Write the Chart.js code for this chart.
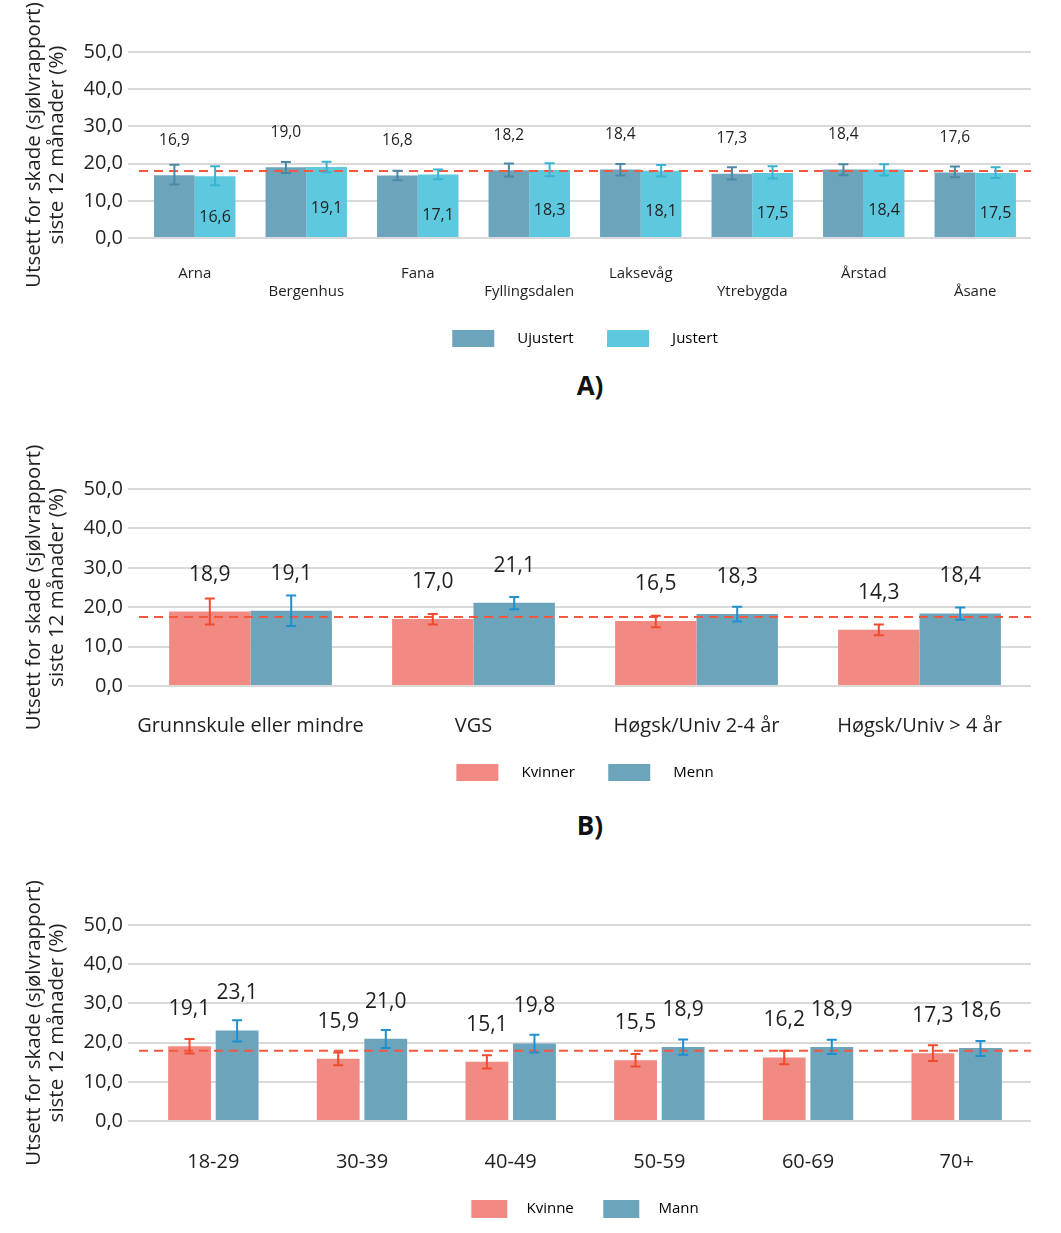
<!DOCTYPE html>
<html>
<head>
<meta charset="utf-8">
<script src="https://cdn.jsdelivr.net/npm/chart.js@4/dist/chart.umd.min.js"></script>
<style>
  body { margin: 0; background: #fff; font-family: "Open Sans", sans-serif; }
  #page { position: relative; width: 1061px; height: 1233px; }
  .box { position: absolute; left: 0; width: 1061px; }
  .tag { position: absolute; width: 60px; text-align: center; font-weight: bold; font-size: 26px; color: #111; line-height: 30px; }
</style>
</head>
<body>
<div id="page">
  <div class="box" style="top:0;height:357px"><canvas id="chartA"></canvas></div>
  <div class="tag" style="left:560px;top:370px">A)</div>
  <div class="box" style="top:440px;height:351px"><canvas id="chartB"></canvas></div>
  <div class="tag" style="left:560px;top:810px">B)</div>
  <div class="box" style="top:870px;height:358px"><canvas id="chartC"></canvas></div>
</div>
<script>
// A) bydel
var bydelar = ['Arna', 'Bergenhus', 'Fana', 'Fyllingsdalen', 'Laksevåg', 'Ytrebygda', 'Årstad', 'Åsane'];
var ujustert = [16.9, 19.0, 16.8, 18.2, 18.4, 17.3, 18.4, 17.6];
var ujustertLo = [14.4, 17.5, 15.5, 16.5, 16.8, 15.7, 16.9, 16.3];
var ujustertHi = [19.7, 20.4, 18.1, 20.0, 19.9, 19.0, 19.8, 19.2];
var justert = [16.6, 19.1, 17.1, 18.3, 18.1, 17.5, 18.4, 17.5];
var justertLo = [14.2, 17.7, 15.8, 16.6, 16.5, 16.0, 16.8, 16.1];
var justertHi = [19.3, 20.5, 18.4, 20.1, 19.6, 19.3, 19.8, 19.0];
var snittA = 18.0;

// B) utdanning
var utdanning = ['Grunnskule eller mindre', 'VGS', 'Høgsk/Univ 2-4 år', 'Høgsk/Univ > 4 år'];
var kvinnerB = [18.9, 17.0, 16.5, 14.3];
var kvinnerBLo = [15.6, 15.6, 14.9, 12.9];
var kvinnerBHi = [22.2, 18.3, 17.8, 15.6];
var mennB = [19.1, 21.1, 18.3, 18.4];
var mennBLo = [15.2, 19.5, 16.4, 16.8];
var mennBHi = [23.0, 22.6, 20.1, 19.9];
var snittB = 17.5;

// C) alder
var alder = ['18-29', '30-39', '40-49', '50-59', '60-69', '70+'];
var kvinneC = [19.1, 15.9, 15.1, 15.5, 16.2, 17.3];
var kvinneCLo = [17.2, 14.2, 13.4, 13.9, 14.5, 15.3];
var kvinneCHi = [20.9, 17.5, 16.8, 17.1, 17.9, 19.3];
var mannC = [23.1, 21.0, 19.8, 18.9, 18.9, 18.6];
var mannCLo = [20.3, 18.6, 17.5, 16.9, 17.1, 16.6];
var mannCHi = [25.7, 23.2, 22.0, 20.8, 20.7, 20.4];
var snittC = 17.9;

var yTicks = [0, 10, 20, 30, 40, 50];
var yTitle = ['Utsett for skade (sjølvrapport)', 'siste 12 månader (%)'];

var FONT = '"Open Sans", sans-serif';
var TEXT = '#1f1f1f';

function komma(v) {
  return v.toFixed(1).replace('.', ',');
}

// feilstolpar, snittlinje og verdietikettar
var extras = {
  id: 'extras',
  afterDatasetsDraw: function(chart, args, opts) {
    var ctx = chart.ctx;
    var y = chart.scales.y;
    var area = chart.chartArea;

    var ym = y.getPixelForValue(opts.mean);
    ctx.save();
    ctx.strokeStyle = '#f4583e';
    ctx.lineWidth = 2;
    ctx.setLineDash([9, 6]);
    ctx.beginPath();
    ctx.moveTo(area.left, ym);
    ctx.lineTo(area.right, ym);
    ctx.stroke();
    ctx.restore();

    chart.data.datasets.forEach(function(ds, di) {
      var meta = chart.getDatasetMeta(di);
      ctx.save();
      ctx.strokeStyle = ds.errColor;
      ctx.lineWidth = 2;
      meta.data.forEach(function(bar, i) {
        var t = y.getPixelForValue(ds.hi[i]);
        var b = y.getPixelForValue(ds.lo[i]);
        ctx.beginPath();
        ctx.moveTo(bar.x, t); ctx.lineTo(bar.x, b);
        ctx.moveTo(bar.x - 5, t); ctx.lineTo(bar.x + 5, t);
        ctx.moveTo(bar.x - 5, b); ctx.lineTo(bar.x + 5, b);
        ctx.stroke();
      });
      ctx.fillStyle = TEXT;
      ctx.font = ds.labelSize + 'px ' + FONT;
      ctx.textAlign = 'center';
      ctx.textBaseline = 'middle';
      meta.data.forEach(function(bar, i) {
        ctx.fillText(komma(ds.data[i]), bar.x, bar.y + ds.labelOffset);
      });
      ctx.restore();
    });
  }
};

function lagGraf(id, cats, sets, mean, o) {
  return new Chart(document.getElementById(id), {
    type: 'bar',
    data: { labels: cats, datasets: sets },
    options: {
      responsive: true,
      maintainAspectRatio: false,
      animation: false,
      layout: { padding: { top: o.top, left: 22, right: 30, bottom: 0 } },
      datasets: { bar: { categoryPercentage: o.catPct, barPercentage: o.barPct } },
      plugins: {
        extras: { mean: mean },
        tooltip: { enabled: false },
        legend: {
          position: 'bottom',
          fullSize: false,
          labels: {
            color: TEXT,
            font: { family: FONT, size: 15 },
            boxWidth: o.boxW,
            boxHeight: o.boxH,
            padding: 10,
            generateLabels: function(chart) {
              var n = chart.data.datasets.length;
              return chart.data.datasets.map(function(ds, i) {
                return {
                  text: o.lead + ds.label + (i < n - 1 ? o.tail : ''),
                  fillStyle: ds.backgroundColor,
                  strokeStyle: ds.backgroundColor,
                  lineWidth: 0,
                  datasetIndex: i
                };
              });
            }
          }
        }
      },
      scales: {
        x: {
          grid: { display: false, drawTicks: false },
          border: { display: false },
          afterFit: function(s) { s.height = o.xH; },
          ticks: {
            color: TEXT,
            autoSkip: false,
            maxRotation: 0,
            padding: o.xPad,
            font: { family: FONT, size: o.xSize, lineHeight: 1.2 },
            callback: function(v, i) {
              var l = this.getLabelForValue(v);
              if (!o.stagger) return l;
              return i % 2 ? ['', l] : [l, ''];
            }
          }
        },
        y: {
          min: 0,
          max: 50,
          afterFit: function(s) { s.width = 117; },
          afterBuildTicks: function(s) {
            s.ticks = yTicks.map(function(v) { return { value: v }; });
          },
          border: { display: false },
          grid: { color: '#d9d9d9', lineWidth: 2, tickLength: 11, tickColor: '#d9d9d9' },
          ticks: {
            color: TEXT,
            padding: 5,
            font: { family: FONT, size: 20 },
            callback: function(v) { return komma(v); }
          },
          title: {
            display: true,
            text: yTitle,
            color: TEXT,
            padding: { top: 0, bottom: 4 },
            font: { family: FONT, size: 20.5, lineHeight: 1.15 }
          }
        }
      }
    },
    plugins: [extras]
  });
}

lagGraf('chartA', bydelar, [
  { label: 'Ujustert', data: ujustert, lo: ujustertLo, hi: ujustertHi,
    backgroundColor: '#6ca4bc', errColor: '#4a89a3', labelSize: 15.5, labelOffset: -35 },
  { label: 'Justert', data: justert, lo: justertLo, hi: justertHi,
    backgroundColor: '#5ec8df', errColor: '#38b4d2', labelSize: 16, labelOffset: 41 }
], snittA, { top: 52, catPct: 0.73, barPct: 1, boxW: 42, boxH: 17, lead: '    ', tail: '      ',
  xH: 82, xPad: 27, xSize: 15, stagger: true });

lagGraf('chartB', utdanning, [
  { label: 'Kvinner', data: kvinnerB, lo: kvinnerBLo, hi: kvinnerBHi,
    backgroundColor: '#f08a83', errColor: '#f24a2c', labelSize: 21, labelOffset: -37 },
  { label: 'Menn', data: mennB, lo: mennBLo, hi: mennBHi,
    backgroundColor: '#6ca4bc', errColor: '#1f8fd0', labelSize: 21, labelOffset: -37 }
], snittB, { top: 49, catPct: 0.73, barPct: 1, boxW: 42, boxH: 17, lead: '    ', tail: '      ',
  xH: 68, xPad: 28, xSize: 20, stagger: false });

lagGraf('chartC', alder, [
  { label: 'Kvinne', data: kvinneC, lo: kvinneCLo, hi: kvinneCHi,
    backgroundColor: '#f08a83', errColor: '#f24a2c', labelSize: 21, labelOffset: -37 },
  { label: 'Mann', data: mannC, lo: mannCLo, hi: mannCHi,
    backgroundColor: '#6ca4bc', errColor: '#1f8fd0', labelSize: 21, labelOffset: -37 }
], snittC, { top: 55, catPct: 0.64, barPct: 0.9, boxW: 36, boxH: 18, lead: '   ', tail: '     ',
  xH: 69, xPad: 29, xSize: 20, stagger: false });
</script>
</body>
</html>
